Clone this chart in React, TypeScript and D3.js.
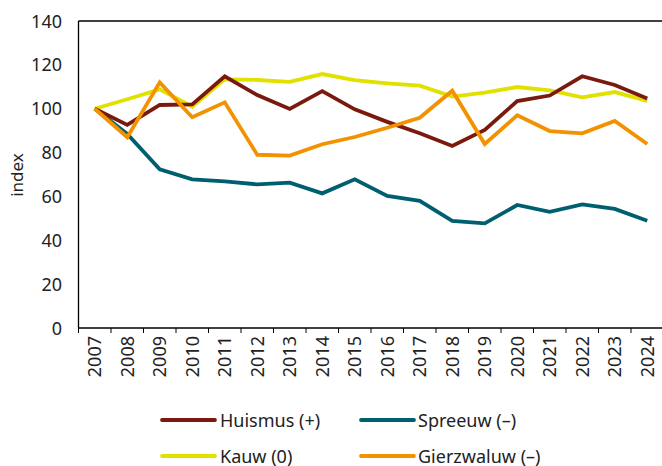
import React from "react";
import * as d3 from "d3";

const years = ["2007","2008","2009","2010","2011","2012","2013","2014","2015","2016","2017","2018","2019","2020","2021","2022","2023","2024"];
const huismus = [100, 92.6, 101.7, 102, 114.8, 106.2, 99.9, 108, 99.7, 94, 88.8, 83, 90.3, 103.5, 106, 114.8, 110.8, 104.7];
const spreeuw = [100, 88.5, 72.4, 67.8, 66.9, 65.5, 66.3, 61.4, 67.8, 60.2, 58, 48.8, 47.7, 56.1, 53, 56.4, 54.3, 48.9];
const kauw = [100, 104.3, 108.8, 100.9, 113.4, 113.1, 112.2, 115.8, 113, 111.6, 110.5, 105.5, 107.3, 109.9, 108.4, 105.2, 107.6, 103.6];
const gierzwaluw = [100, 87, 112, 96.1, 102.9, 79, 78.6, 83.8, 87.1, 91.3, 95.9, 108.2, 83.9, 97, 89.8, 88.8, 94.4, 83.9];
const yTicks = [0, 20, 40, 60, 80, 100, 120, 140];

const seriesNames = ["Huismus (+)", "Spreeuw (–)", "Kauw (0)", "Gierzwaluw (–)"];
const seriesColors = ["#7a1a0f", "#005f6e", "#e1e100", "#f39200"];
const seriesData = [huismus, spreeuw, kauw, gierzwaluw];
const drawOrder = [1, 2, 0, 3];

export default function App() {
  const W = 662, H = 466;
  const left = 78.5, right = 663.5, top = 21, bottom = 328;
  const x = d3.scaleBand<string>().domain(years).range([left, right]);
  const y = d3.scaleLinear().domain([0, 140]).range([bottom, top]);
  const font = "'Noto Sans', sans-serif";
  const line = d3.line<number>()
    .x((_, i) => (x(years[i]) as number) + x.bandwidth() / 2)
    .y((d) => y(d));

  const legendPos = [
    { sx: 162, tx: 220, y: 420 },
    { sx: 361, tx: 418, y: 420 },
    { sx: 162, tx: 220, y: 456 },
    { sx: 361, tx: 418, y: 456 },
  ];

  return (
    <svg width={W} height={H} style={{ position: "absolute", left: 0, top: 0 }} fontFamily={font}>
      <rect x={0} y={0} width={W} height={H} fill="#fff" />
      {/* frame */}
      <line x1={left} x2={right} y1={top} y2={top} stroke="#000" strokeWidth={1.3} />
      <line x1={left} x2={left} y1={top} y2={bottom} stroke="#000" strokeWidth={1.3} />
      <line x1={left} x2={right} y1={bottom} y2={bottom} stroke="#000" strokeWidth={1.3} />
      {/* x ticks */}
      {years.map((yr) => (
        <line key={"t" + yr} x1={x(yr) as number} x2={x(yr) as number} y1={bottom} y2={bottom + 5} stroke="#000" strokeWidth={1} />
      ))}
      {years.map((yr) => {
        const cx = (x(yr) as number) + x.bandwidth() / 2;
        return (
          <text key={"l" + yr} transform={`translate(${cx + 6.5},336) rotate(-90)`} textAnchor="end" fontSize={18} fill="#222">{yr}</text>
        );
      })}
      {/* y labels */}
      {yTicks.map((t) => (
        <text key={"y" + t} x={62} y={y(t) + 6.5} textAnchor="end" fontSize={18} fill="#222">{t}</text>
      ))}
      <text transform={`translate(23,175) rotate(-90)`} textAnchor="middle" fontSize={17} fill="#222">index</text>
      {/* lines */}
      {drawOrder.map((i) => (
        <path key={"s" + i} d={line(seriesData[i]) || ""} fill="none" stroke={seriesColors[i]} strokeWidth={3.8} strokeLinejoin="miter" />
      ))}
      {/* legend */}
      {seriesNames.map((n, i) => (
        <g key={"g" + i}>
          <line x1={legendPos[i].sx} x2={legendPos[i].sx + 53} y1={legendPos[i].y} y2={legendPos[i].y} stroke={seriesColors[i]} strokeWidth={3.8} strokeLinecap="round" />
          <text x={legendPos[i].tx} y={legendPos[i].y + 6.5} fontSize={18} fill="#222">{n}</text>
        </g>
      ))}
    </svg>
  );
}
